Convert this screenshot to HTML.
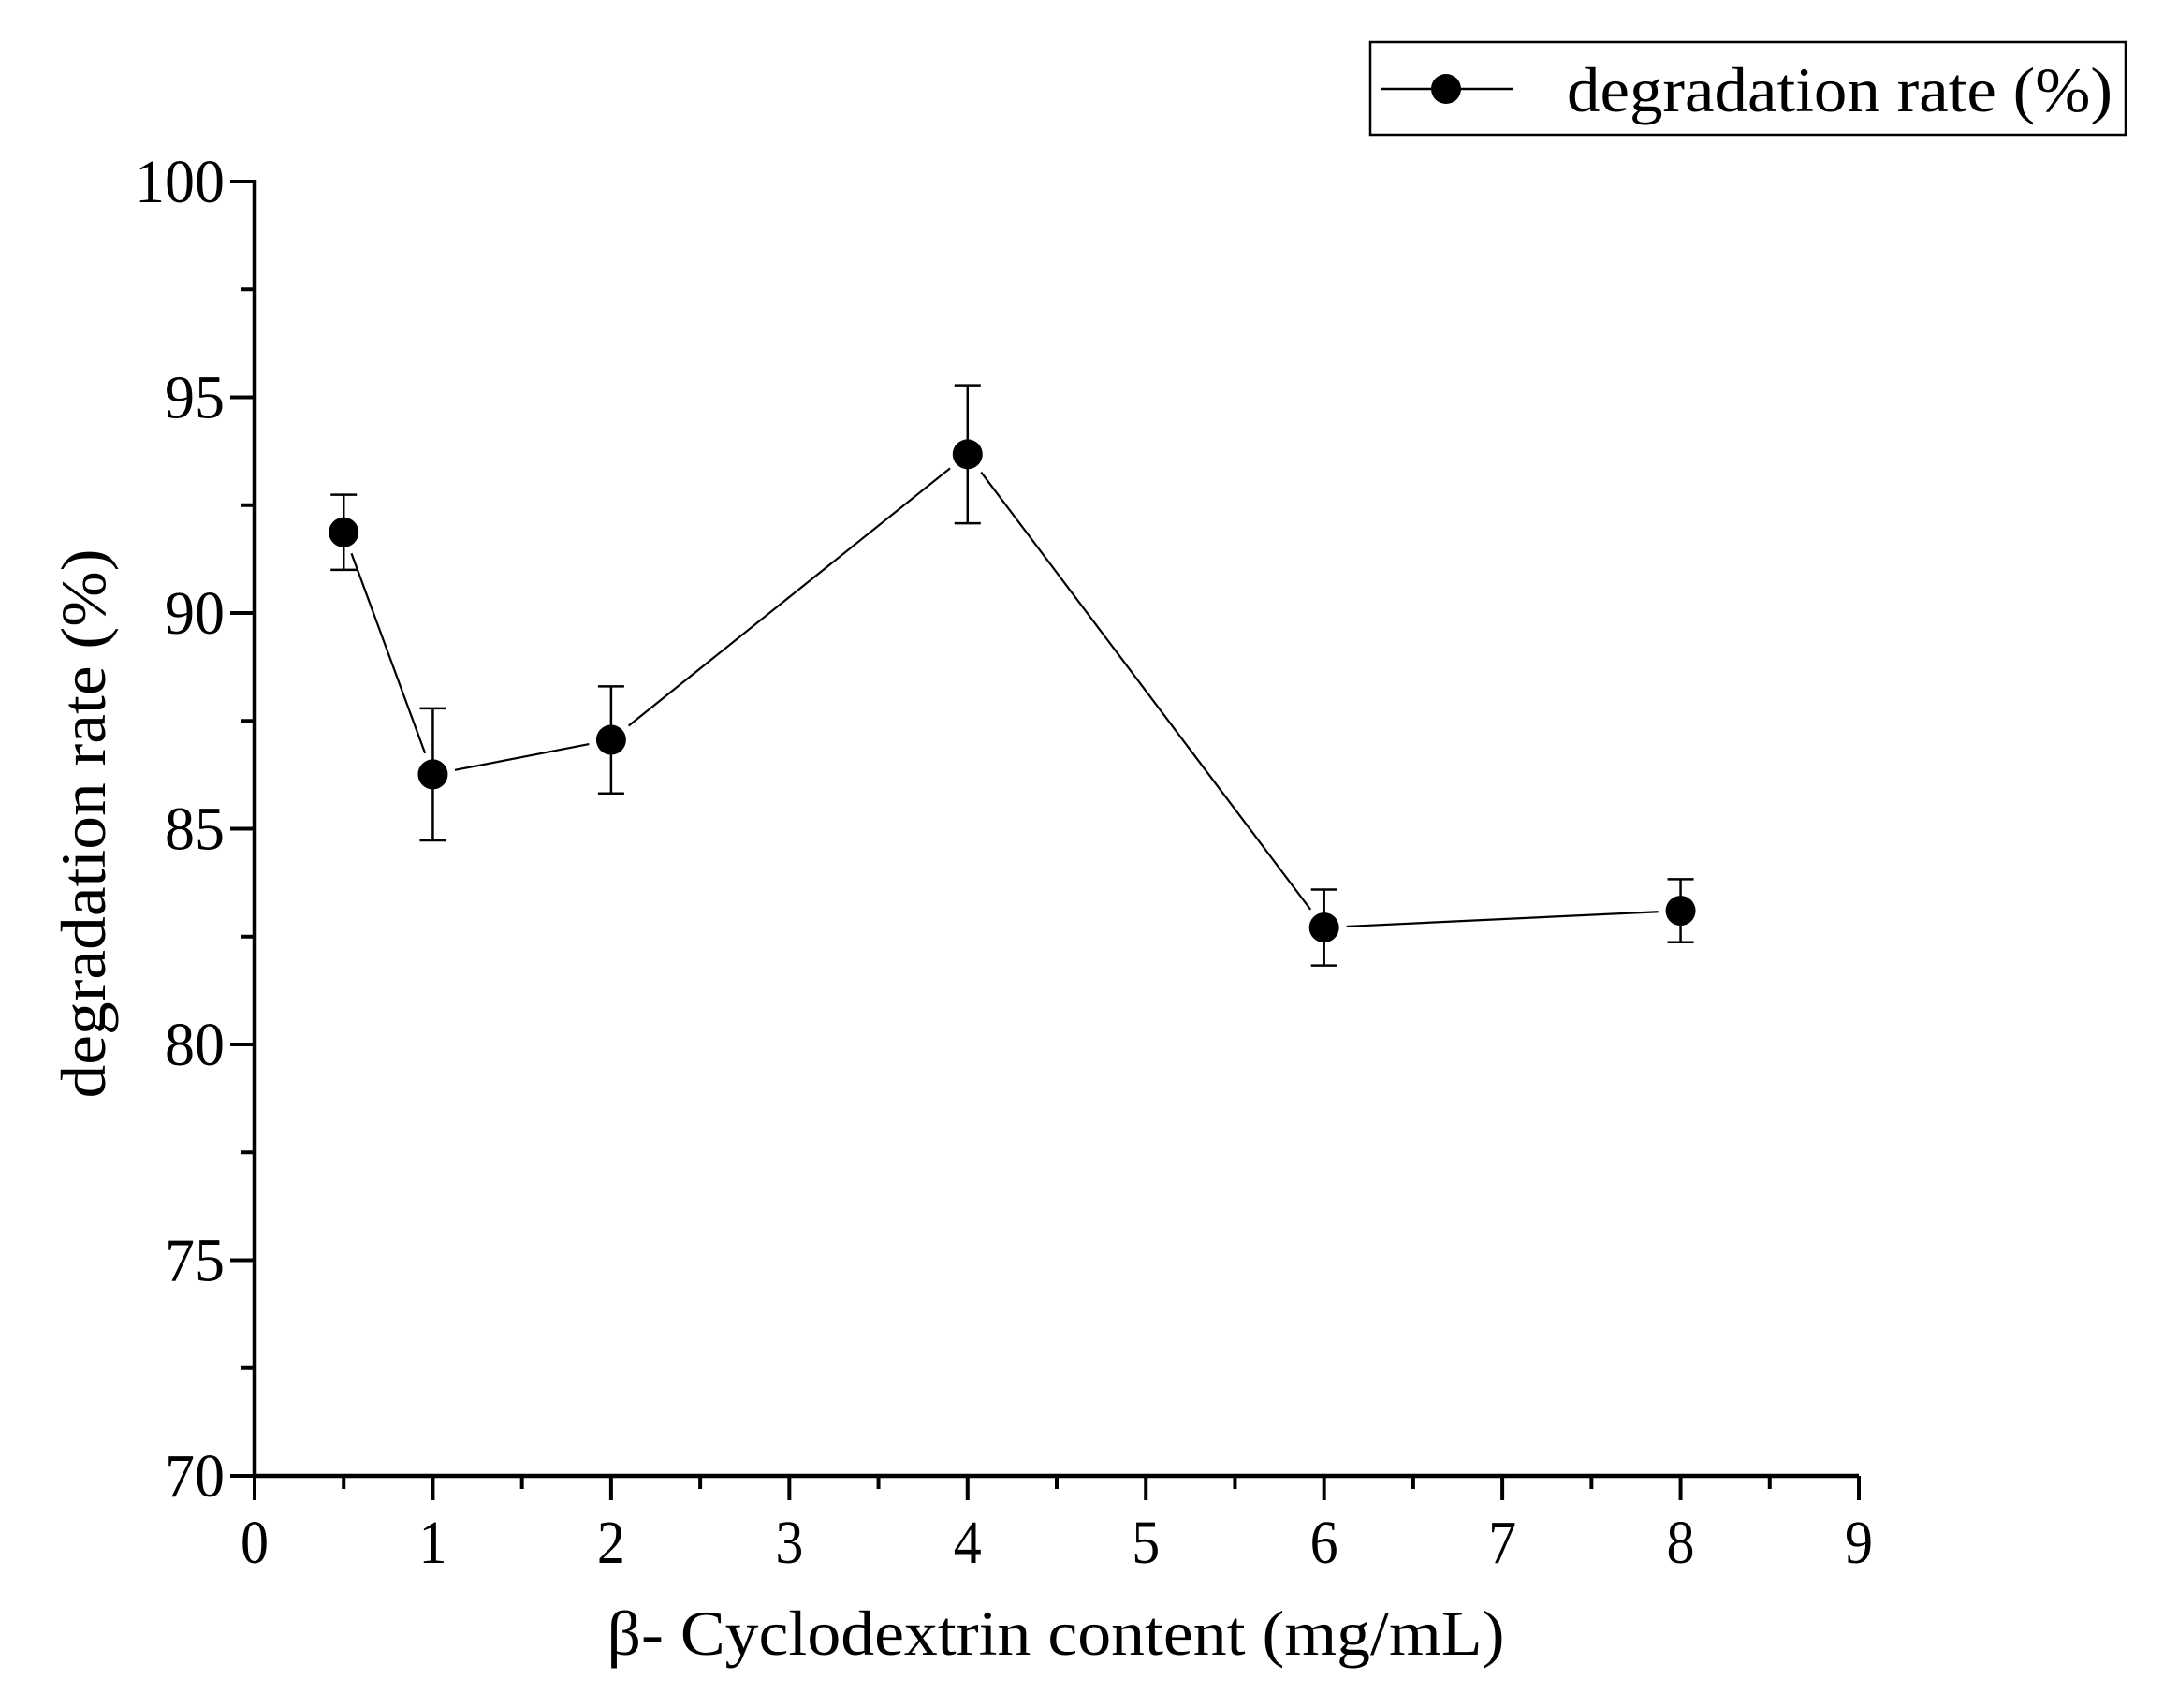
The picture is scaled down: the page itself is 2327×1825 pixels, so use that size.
<!DOCTYPE html>
<html><head><meta charset="utf-8"><style>
html,body{margin:0;padding:0;background:#fff;}
svg{display:block;}
text{font-family:"Liberation Serif",serif;fill:#000;}
</style></head><body>
<svg id="chart" width="2327" height="1825" viewBox="0 0 2327 1825" xmlns="http://www.w3.org/2000/svg">
<g id="axes"></g>
<g id="series"></g>
<text x="1128" y="1768" font-size="68" text-anchor="middle" textLength="959" lengthAdjust="spacingAndGlyphs">β- Cyclodextrin content (mg/mL)</text>
<text transform="translate(112,880) rotate(-90)" font-size="68" text-anchor="middle" textLength="587" lengthAdjust="spacingAndGlyphs">degradation rate (%)</text>
<g>
<rect x="1464" y="45" width="807" height="99" fill="#fff" stroke="#000" stroke-width="2.5"/>
<line x1="1475" y1="95" x2="1616" y2="95" stroke="#000" stroke-width="2.5"/>
<circle cx="1545" cy="95" r="16" fill="#000"/>
<text x="1674" y="119" font-size="68" textLength="583" lengthAdjust="spacingAndGlyphs">degradation rate (%)</text>
</g>
</svg>
<script>
const xValues = [0.5, 1, 2, 4, 6, 8];
const yValues = [91.87, 86.26, 87.06, 93.68, 82.71, 83.10];
const yErrors = [0.87, 1.53, 1.24, 1.6, 0.88, 0.73];
const xTicks = [0,1,2,3,4,5,6,7,8,9];
const yTicks = [70,75,80,85,90,95,100];

const NS = "http://www.w3.org/2000/svg";
const X0 = 272, X1 = 1986, Y0 = 1577, Y1 = 194;
function xs(v){ return X0 + (v - 0) / 9 * (X1 - X0); }
function ys(v){ return Y0 - (v - 70) / 30 * (Y0 - Y1); }
function mk(tag, attrs, parent){
  const e = document.createElementNS(NS, tag);
  for (const k in attrs) e.setAttribute(k, attrs[k]);
  parent.appendChild(e); return e;
}
const axes = document.getElementById('axes');
const series = document.getElementById('series');

let e;
e = mk('line', {x1:X0, y1:Y0, x2:X1, y2:Y0, stroke:'#000', 'stroke-width':4.5}, axes);


e = mk('line', {x1:X0, y1:Y0+2, x2:X0, y2:Y1-2, stroke:'#000', 'stroke-width':4.5}, axes);



for (let i = 0; i < xTicks.length; i++) {
  const t = xTicks[i];
  e = mk('line', {x1:xs(t), y1:Y0, x2:xs(t), y2:Y0+26, stroke:'#000', 'stroke-width':4}, axes);
  
  
  if (i < xTicks.length - 1) {
    e = mk('line', {x1:xs(t+0.5), y1:Y0, x2:xs(t+0.5), y2:Y0+14, stroke:'#000', 'stroke-width':4}, axes);
    
    
  }
  e = mk('text', {x:xs(t), y:1670, 'font-size':66, 'text-anchor':'middle', textLength:30, lengthAdjust:'spacingAndGlyphs'}, axes);
  e.textContent = t;
  
  
}
for (let i = 0; i < yTicks.length; i++) {
  const t = yTicks[i];
  e = mk('line', {x1:X0-26, y1:ys(t), x2:X0, y2:ys(t), stroke:'#000', 'stroke-width':4}, axes);
  
  
  if (i < yTicks.length - 1) {
    e = mk('line', {x1:X0-14, y1:ys(t+2.5), x2:X0, y2:ys(t+2.5), stroke:'#000', 'stroke-width':4}, axes);
    
    
  }
  e = mk('text', {x:240, y:ys(t)+22, 'font-size':66, 'text-anchor':'end', textLength:String(t).length*32, lengthAdjust:'spacingAndGlyphs'}, axes);
  e.textContent = t;
  
  
}

for (let i = 0; i < xValues.length - 1; i++) {
  const ax = xs(xValues[i]), ay = ys(yValues[i]);
  const bx = xs(xValues[i+1]), by = ys(yValues[i+1]);
  const d = Math.hypot(bx-ax, by-ay), g = 24;
  const ux = (bx-ax)/d, uy = (by-ay)/d;
  e = mk('line', {x1:ax+ux*g, y1:ay+uy*g, x2:bx-ux*g, y2:by-uy*g, stroke:'#000', 'stroke-width':2.2}, series);
  
  
}
for (let i = 0; i < xValues.length; i++) {
  const cx = xs(xValues[i]);
  const top = ys(yValues[i] + yErrors[i]), bot = ys(yValues[i] - yErrors[i]);
  e = mk('path', {d:`M${cx},${top}V${bot}M${cx-14},${top}H${cx+14}M${cx-14},${bot}H${cx+14}`, stroke:'#000', 'stroke-width':2.5, fill:'none'}, series);
  
  
  e = mk('circle', {cx:cx, cy:ys(yValues[i]), r:16, fill:'#000'}, series);
  
  
}
</script>
</body></html>
